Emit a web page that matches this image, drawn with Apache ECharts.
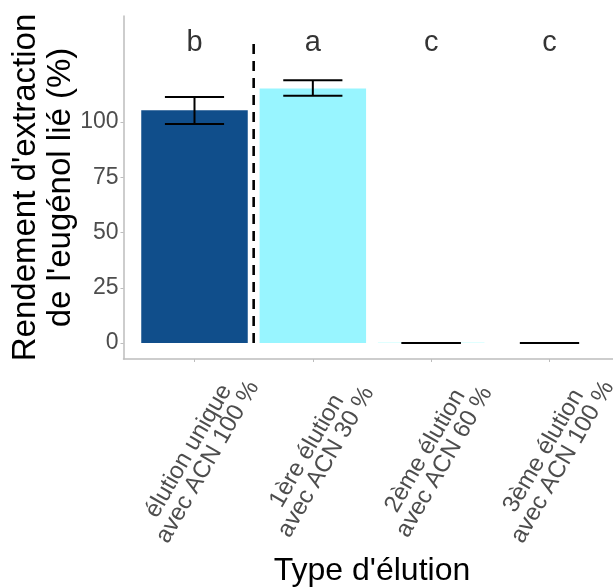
<!DOCTYPE html>
<html>
<head>
<meta charset="utf-8">
<script src="https://cdn.jsdelivr.net/npm/echarts@6/dist/echarts.min.js"></script>
<style>
html,body{margin:0;padding:0;background:#fff;}
#chart{width:613px;height:587px;}
</style>
</head>
<body>
<div id="chart"></div>
<script>
const categories = ['élution unique\navec ACN 100 %', '1ère élution\navec ACN 30 %', '2ème élution\navec ACN 60 %', '3ème élution\navec ACN 100 %'];
const catPositions = [1, 2, 3, 4];
const means = [105.3, 115.2, 0.5, 0];
const errLow = [99.1, 111.9, 0, 0];
const errHigh = [111.3, 118.9, 0, 0];
const letters = ['b', 'a', 'c', 'c'];
const letterY = 136;
const barColors = ['#104E8B', '#98F5FF', '#E0FFFF', '#FFFFFF'];
const separatorX = 1.5;
const separatorTop = 136.7;
const yTicks = [0, 25, 50, 75, 100];

const FONT = 'Liberation Sans, Arial, sans-serif';
const chart = echarts.init(document.getElementById('chart'), null, {renderer: 'canvas'});

const barData = catPositions.map((x, i) => ({value: [x, means[i]], itemStyle: {color: barColors[i]}}));
const errData = catPositions.map((x, i) => [x, errLow[i], errHigh[i]]);
const letterData = catPositions.map((x, i) => [x, letterY, letters[i]]);

chart.setOption({
  animation: false,
  backgroundColor: '#ffffff',
  grid: {left: 123.5, right: -7.5, top: 16, bottom: 228, containLabel: false, outerBoundsMode: 'none'},
  xAxis: {
    type: 'value', min: 0.4, max: 4.6,
    name: "Type d'élution", nameLocation: 'middle', nameGap: 196, nameMoveOverlap: false,
    nameTextStyle: {fontFamily: FONT, fontSize: 32, color: '#000'},
    axisLine: {show: true, onZero: false, lineStyle: {color: '#bdbdbd', width: 1.5}},
    splitLine: {show: false},
    axisTick: {show: true, customValues: catPositions, length: 3, lineStyle: {color: '#bdbdbd', width: 1}},
    axisLabel: {
      customValues: catPositions,
      formatter: v => categories[Math.round(v) - 1],
      rotate: 60, align: 'center', verticalAlign: 'middle', margin: 104, padding: [0, 0, 0, 15],
      fontFamily: FONT, fontSize: 24, lineHeight: 22, color: '#4d4d4d'
    }
  },
  yAxis: {
    type: 'value', min: -7.2, max: 148,
    name: "Rendement d'extraction\nde l'eugénol lié (%)", nameLocation: 'middle', nameRotate: 90, nameGap: 45, nameMoveOverlap: false,
    nameTextStyle: {fontFamily: FONT, fontSize: 33, lineHeight: 35, color: '#000', align: 'center'},
    axisLine: {show: true, onZero: false, lineStyle: {color: '#bdbdbd', width: 1.5}},
    splitLine: {show: false},
    axisTick: {show: true, customValues: yTicks, length: 3, lineStyle: {color: '#bdbdbd', width: 1}},
    axisLabel: {customValues: yTicks, margin: 5, fontFamily: FONT, fontSize: 23, color: '#4d4d4d'}
  },
  series: [
    {
      type: 'bar', data: barData, barWidth: 106.5
    },
    {
      type: 'line', data: [[separatorX, 0], [separatorX, separatorTop]], symbol: 'none',
      lineStyle: {color: '#000', width: 2.6, type: [10, 7]}, z: 3
    },
    {
      type: 'custom', data: errData, z: 4,
      renderItem: function (params, api) {
        const x = api.value(0), lo = api.value(1), hi = api.value(2);
        const pLo = api.coord([x, lo]);
        const pHi = api.coord([x, hi]);
        const hw = api.size([0.25, 0])[0];
        const st = {stroke: '#000', lineWidth: 2};
        return {type: 'group', children: [
          {type: 'line', shape: {x1: pLo[0], y1: pLo[1], x2: pHi[0], y2: pHi[1]}, style: st},
          {type: 'line', shape: {x1: pHi[0] - hw, y1: pHi[1], x2: pHi[0] + hw, y2: pHi[1]}, style: st},
          {type: 'line', shape: {x1: pLo[0] - hw, y1: pLo[1], x2: pLo[0] + hw, y2: pLo[1]}, style: st}
        ]};
      }
    },
    {
      type: 'scatter', data: letterData, symbolSize: 0, z: 5,
      label: {show: true, position: 'inside', formatter: p => p.data[2], fontFamily: FONT, fontSize: 29, color: '#000'}
    }
  ]
});
</script>
</body>
</html>
